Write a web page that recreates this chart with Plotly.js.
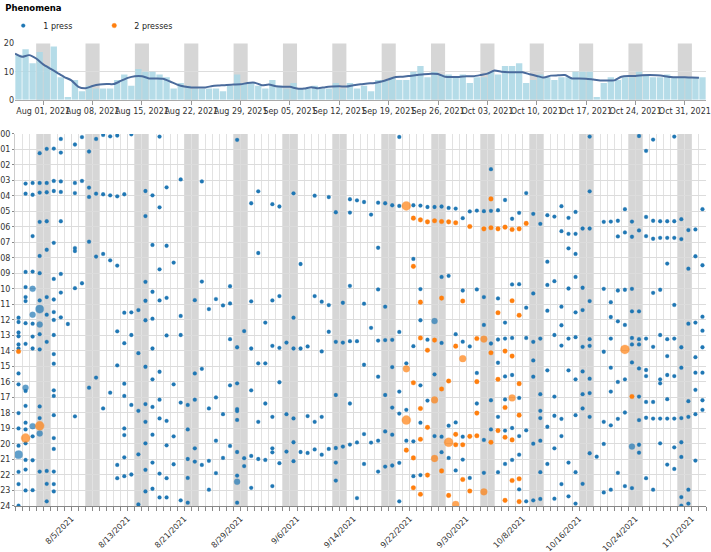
<!DOCTYPE html>
<html>
<head>
<meta charset="utf-8">
<script src="https://cdn.plot.ly/plotly-3.0.1.min.js"></script>
<style>
html,body{margin:0;padding:0;background:#ffffff;}
#chart{width:711px;height:552px;}
</style>
</head>
<body>
<div id="chart"></div>
<script>
// ---------- categories: one entry per day ----------
const dates = [
  '2021-07-28','2021-07-29','2021-07-30','2021-07-31',
  '2021-08-01','2021-08-02','2021-08-03','2021-08-04','2021-08-05','2021-08-06','2021-08-07','2021-08-08','2021-08-09','2021-08-10',
  '2021-08-11','2021-08-12','2021-08-13','2021-08-14','2021-08-15','2021-08-16','2021-08-17','2021-08-18','2021-08-19','2021-08-20',
  '2021-08-21','2021-08-22','2021-08-23','2021-08-24','2021-08-25','2021-08-26','2021-08-27','2021-08-28','2021-08-29','2021-08-30','2021-08-31',
  '2021-09-01','2021-09-02','2021-09-03','2021-09-04','2021-09-05','2021-09-06','2021-09-07','2021-09-08','2021-09-09','2021-09-10',
  '2021-09-11','2021-09-12','2021-09-13','2021-09-14','2021-09-15','2021-09-16','2021-09-17','2021-09-18','2021-09-19','2021-09-20',
  '2021-09-21','2021-09-22','2021-09-23','2021-09-24','2021-09-25','2021-09-26','2021-09-27','2021-09-28','2021-09-29','2021-09-30',
  '2021-10-01','2021-10-02','2021-10-03','2021-10-04','2021-10-05','2021-10-06','2021-10-07','2021-10-08','2021-10-09','2021-10-10',
  '2021-10-11','2021-10-12','2021-10-13','2021-10-14','2021-10-15','2021-10-16','2021-10-17','2021-10-18','2021-10-19','2021-10-20',
  '2021-10-21','2021-10-22','2021-10-23','2021-10-24','2021-10-25','2021-10-26','2021-10-27','2021-10-28','2021-10-29','2021-10-30','2021-10-31',
  '2021-11-01','2021-11-02'
];

// ---------- top panel: daily counts and smoothed trend ----------
const dailyCount = [
  16,18,13,17,12,19,8,1,7,3,
  5,4,4,4,7,9,5,11,10,10,
  9,8,4,6,5,4,4,4,4,3,
  5,9,6,6,5,4,7,5,4,6,
  4,4,5,4,4,6,4,6,4,5,
  3,7,7,8,7,7,10,12,8,10,
  9,9,8,9,6,8,8,10,9,12,
  12,13,6,7,9,8,7,8,8,10,
  10,10,1,6,8,7,8,8,10,9,
  8,8,9,8,8,8,8,8
];
const rollingMean = [
  16.4,15.3,15.9,14.7,12.6,11.1,9.6,8.1,6.9,4.6,
  4.1,4.9,5.4,5.6,5.6,6.7,7.8,8.4,8.4,7.6,
  7.6,7.5,6.5,5.4,4.7,4.4,4.4,4.4,4.9,5.1,
  5.3,5.4,5.5,6.0,6.1,5.2,5.4,4.8,4.6,4.6,
  4.0,4.0,4.5,4.1,4.5,4.7,4.8,4.7,5.2,5.5,
  5.8,6.0,6.5,7.3,8.1,8.2,8.5,8.8,9.1,9.3,
  9.2,8.2,8.1,8.1,8.4,8.4,8.8,9.3,10.4,10.0,
  9.8,9.8,9.8,9.1,8.5,7.9,8.6,8.7,8.8,7.6,
  7.6,7.5,7.2,6.9,6.9,6.9,8.2,8.5,8.5,8.7,
  8.8,8.7,8.5,8.1,8.0,8.0,7.9,7.8
];
const countTicks = [0, 10, 20];

// ---------- bottom panel: hour-of-day axis ----------
const hourTicks = [0,1,2,3,4,5,6,7,8,9,10,11,12,13,14,15,16,17,18,19,20,21,22,23,24];
const hourLabels = ['00','01','02','03','04','05','06','07','08','09','10','11','12',
                    '13','14','15','16','17','18','19','20','21','22','23','24'];

const seriesNames = ['1 press', '2 presses'];

// "1 press" events: hours of day, one list per entry of dates
const press1Hours = [
  [11.85,12.13,12.81,13.05,13.58,13.84,15.45,16.15,18.01,19.0,20.11,21.8,22.59,23.98],
  [3.2,3.85,8.9,9.88,10.52,10.78,12.21,13.54,16.58,17.54,18.63,19.06,19.96,21.03,21.65,23.0],
  [3.16,3.92,6.59,8.88,12.24,13.07,13.84,19.51,21.05,22.98],
  [1.24,3.16,3.78,5.67,7.87,8.98,10.74,12.92,13.9,17.58,18.33,21.78],
  [0.96,3.16,3.76,5.63,7.47,10.52,11.66,13.41,21.74,22.57,23.7],
  [0.94,3.03,3.68,7.02,9.35,10.68,11.49,12.0,12.97,14.2,14.82,16.54,16.9,18.14,19.62,20.32,21.78,22.59,23.06],
  [0.32,1.2,3.06,3.74,5.63,9.03,10.23,11.83],
  [12.26],
  [0.68,3.16,3.81,7.36,7.55,9.95,18.22],
  [0.2,3.03,9.63],
  [1.13,3.46,4.06,6.95,16.37],
  [0.32,3.85,7.91,15.72],
  [0.06,3.89,7.74,17.71],
  [0.15,3.96,8.15,16.69],
  [0.1,4.02,8.49,12.73,14.93,21.35,22.21],
  [3.89,11.53,13.5,16.11,16.9,19.0,19.43,20.86,22.08],
  [0.02,11.51,12.97,17.48,21.97],
  [11.36,14.14,17.86,20.67,23.9],
  [3.68,5.3,9.54,10.76,12.02,15.02,17.43,18.57,19.96,21.67,23.06],
  [3.96,7.16,10.18,11.92,13.84,15.83,17.61,19.4,21.2,22.89],
  [0.17,4.73,8.73,10.74,15.34,17.14,18.35,21.91,23.45],
  [3.44,7.21,10.57,13.0,18.51,20.09,22.21,23.45],
  [8.3,16.15,19.51,21.31],
  [2.93,11.74,12.97,17.33,23.64],
  [17.48,19.06,20.97,22.19,23.79],
  [10.72,15.45,17.14,20.28,21.14],
  [3.06,9.52,15.15,21.35],
  [11.3,17.71,21.09,22.95],
  [10.65,17.0,19.79,21.88],
  [11.06,18.08,20.9],
  [9.82,10.93,13.24,16.22,20.13],
  [0.38,13.76,16.09,17.75,17.88,18.45,20.52,22.04,23.79],
  [12.72,20.92,21.43],
  [4.47,10.8,13.84,16.54,20.77,22.83],
  [3.7,7.68,14.8,18.57,20.97],
  [12.17,14.8,17.39,21.03],
  [4.53,10.74,13.67,18.25,20.28,20.54,22.72],
  [4.68,10.46,13.8,16.02,21.24],
  [13.46,18.08,20.49],
  [3.83,11.85,13.84,18.35,19.89,21.11],
  [8.39,13.84,20.52],
  [13.71,18.2,20.58],
  [3.98,10.46,18.57,20.35],
  [10.82,14.03,18.25,20.69],
  [4.07,11.04,12.76,20.32],
  [5.05,13.41,16.84,20.26,21.2,22.36],
  [10.89,13.46,20.17],
  [4.21,5.07,9.8,13.37,17.39,20.04],
  [4.28,13.37,19.9,23.49],
  [4.39,10.95,14.89,19.36,21.29],
  [5.2,12.51,19.91],
  [4.43,7.34,10.03,13.33,15.66,19.79,21.78],
  [4.47,11.14,13.3,16.84,19.19,21.46],
  [4.6,13.28,15.04,17.65,19.4,21.39],
  [0.19,4.64,12.77,16.62,18.04,21.22,23.7],
  [14.8,17.8,19.79],
  [4.6,8.06,13.69,19.83,22.08],
  [4.62,10.01,12.02,16.22,18.63,22.01],
  [4.71,13.27,17.2],
  [4.71,15.51,19.49],
  [4.68,9.22,13.48,19.53,20.53],
  [4.77,9.15,18.82,20.9],
  [4.81,12.92,18.61,21.71],
  [5.43,10.1,13.4,19.53,21.01],
  [5.0,13.71,22.19],
  [4.94,10.03,15.42,17.39],
  [4.98,10.52,12.32,19.74,21.86],
  [2.27,4.96,13.52,17.18,19.06],
  [4.92,10.61,13.26,14.76,18.25,21.82],
  [4.26,12.17,13.2,15.64,17.13,19.14,21.29],
  [5.47,9.71,13.16,15.55,18.97,21.03],
  [5.09,9.69,17.03,19.49,20.69,22.93],
  [3.81,11.21,13.16,19.12,23.7],
  [5.15,10.29,13.41,14.61,15.66,19.98,23.64],
  [5.8,13.2,16.79,17.86,18.33,19.79,21.82,23.55],
  [5.24,8.24,9.74,11.4,15.25,18.89,21.29],
  [5.33,9.5,12.97,16.94,18.18,20.28,23.53],
  [4.66,6.27,11.14,12.34,13.65,18.38,19.49,22.59],
  [5.41,6.44,7.38,9.97,13.2,15.25,21.2,23.38],
  [5.03,6.44,7.74,9.22,11.51,13.11,15.83,18.14,21.82,23.85],
  [6.1,9.92,11.36,13.73,15.32,16.79,17.71,22.57],
  [0.17,3.7,6.1,10.78,13.24,13.67,15.79,16.72,18.25,20.6],
  [20.82],
  [5.67,9.99,14.05,18.57,20.0,23.13],
  [5.65,10.85,11.81,13.2,15.08,16.62,18.8,22.95],
  [5.6,6.61,10.1,12.09,16.0,18.38,21.86],
  [4.85,6.35,10.05,12.32,15.83,17.97,22.72],
  [5.65,6.63,9.99,11.44,13.16,13.58,14.74,22.85],
  [0.13,6.22,11.44,13.24,13.58,15.13,16.94,18.46,20.05,20.56],
  [1.09,5.35,6.59,13.2,15.23,15.62,17.29,18.31,22.21],
  [0.36,5.6,6.76,10.25,13.73,17.29,18.36,22.95],
  [5.63,6.7,10.05,12.97,15.83,16.09,18.36,19.96],
  [5.63,6.7,8.36,13.24,14.33,15.55,17.11,18.36,21.33],
  [0.17,5.63,6.7,11.03,13.2,15.62,18.36,20.22,21.61],
  [5.5,6.78,13.76,15.08,18.33,19.89,20.84,23.43,23.98],
  [6.2,8.69,12.24,17.24,18.25,22.95,23.85],
  [6.16,7.89,12.17,14.4,15.4,16.51,18.08,21.07],
  [4.85,8.47,11.79,12.69,13.76,15.4,17.18,17.8]
];
// "1 press" events that were recorded several times at the same moment
const press1MultiDates  = ['2021-07-28','2021-07-29','2021-07-30','2021-07-30','2021-07-30','2021-07-31','2021-07-31','2021-07-31','2021-08-28','2021-09-25','2021-10-23'];
const press1MultiHours  = [20.69,16.37,9.99,11.66,18.85,11.3,12.3,19.32,22.44,12.07,20.17];
const press1MultiCounts = [3,2,2,2,2,3,2,2,2,2,2];

// "2 presses" events
const press2Dates = ['2021-07-28','2021-09-21','2021-09-22','2021-09-23','2021-09-24','2021-09-25','2021-09-26',
                     '2021-09-27','2021-09-28','2021-09-29','2021-09-30','2021-10-01','2021-10-02','2021-10-03',
                     '2021-10-04','2021-10-05','2021-10-06','2021-10-07','2021-10-08','2021-10-23'];
const press2Hours = [
  [14.03],
  [20.4],
  [5.43,8.54,16.05,20.9,22.83],
  [5.54,10.85,13.16,17.71,19.7,23.25],
  [5.67,13.95,18.93,22.01],
  [5.6,13.3],
  [5.65,10.59,16.45,21.74],
  [5.67,15.94,23.32],
  [5.73,13.69,19.38,20.05],
  [10.78,20.05,22.29],
  [5.97,19.51,23.04],
  [13.2,15.98,18.01,19.47],
  [6.12],
  [4.19,6.05,14.12,19.89],
  [6.12,11.53,15.83,19.14],
  [6.01,14.01,17.65,19.57,23.64],
  [6.16,10.76,14.33,19.74,22.36],
  [6.12,11.7,16.11,18.14,22.25,23.72],
  [5.77],
  [16.94]
];
const press2MultiDates  = ['2021-07-29','2021-07-31','2021-09-21','2021-09-21','2021-09-21','2021-09-25','2021-09-25',
                           '2021-09-27','2021-09-28','2021-09-29','2021-10-02','2021-10-02','2021-10-06','2021-10-22'];
const press2MultiHours  = [19.62,18.83,4.64,15.15,18.46,17.16,20.94,19.89,23.9,14.5,13.23,23.09,17.03,13.9];
const press2MultiCounts = [3,3,3,2,3,2,2,3,2,2,2,2,2,3];

// ---------- build traces ----------
const DAY = 86400000;
const blue = '#1f77b4', orange = '#ff7f0e';

function flatten(dayList, hourLists) {
  const xs = [], ys = [];
  dayList.forEach((d, i) => hourLists[i].forEach(h => { xs.push(d); ys.push(h); }));
  return {xs, ys};
}

const p1 = flatten(dates, press1Hours);
const p2 = flatten(press2Dates, press2Hours);

function pointTrace(name, xs, ys, color, halo, size, showlegend) {
  return {
    type: 'scatter', mode: 'markers', name: name,
    x: xs, y: ys, xaxis: 'x2', yaxis: 'y2',
    xperiod: DAY, xperiodalignment: 'middle',
    showlegend: showlegend,
    marker: {color: color, size: size, line: {color: halo, width: 1}},
    hoverinfo: 'x+y'
  };
}

const traces = [
  {
    type: 'bar', x: dates, y: dailyCount, xaxis: 'x', yaxis: 'y',
    xperiod: DAY, xperiodalignment: 'middle',
    marker: {color: '#add8e6', opacity: 0.9, line: {width: 0}},
    showlegend: false, hoverinfo: 'x+y'
  },
  {
    type: 'scatter', mode: 'lines', x: dates, y: rollingMean, xaxis: 'x', yaxis: 'y',
    line: {color: '#4a6b9c', width: 2, shape: 'spline', smoothing: 0.6},
    showlegend: false, hoverinfo: 'x+y'
  },
  pointTrace(seriesNames[0], p1.xs, p1.ys, blue, 'rgba(31,119,180,0.28)', 3.8, true),
  pointTrace(seriesNames[1], p2.xs, p2.ys, orange, 'rgba(255,127,14,0.3)', 4.6, true),
  pointTrace(seriesNames[0], press1MultiDates, press1MultiHours, blue, 'rgba(31,119,180,0.28)',
             press1MultiCounts.map(c => 3.8 + (c - 1) * 2.2), false),
  pointTrace(seriesNames[1], press2MultiDates, press2MultiHours, orange, 'rgba(255,127,14,0.3)',
             press2MultiCounts.map(c => 4.6 + (c - 1) * 2.2), false)
];

// weekend bands (Saturday + Sunday) derived from the date list
const shapes = [];
dates.forEach((d, i) => {
  if (new Date(d + 'T00:00:00Z').getUTCDay() === 6 && i + 2 < dates.length) {
    ['x', 'x2'].forEach((ax, k) => {
      shapes.push({
        type: 'rect', layer: 'below', xref: ax, yref: (k === 0 ? 'y' : 'y2') + ' domain',
        x0: d, x1: dates[i + 2], y0: 0, y1: 1,
        fillcolor: '#d6d6d6', line: {width: 0}
      });
    });
  }
});

const H = 552;
const tickFont = {family: 'DejaVu Sans, Verdana, sans-serif', size: 8, color: '#333'};

const layout = {
  width: 711, height: H,
  margin: {l: 15, r: 5, t: 0, b: 0, pad: 0},
  paper_bgcolor: '#ffffff', plot_bgcolor: '#ffffff',
  font: {family: 'DejaVu Sans, Verdana, sans-serif', size: 8, color: '#333'},
  showlegend: true,
  bargap: 0.1,
  legend: {
    orientation: 'h', x: -0.017, xanchor: 'left', y: 1.006, yanchor: 'top',
    title: {text: '<b>Phenomena</b>', side: 'top', font: {size: 8.5, color: '#000'}},
    font: {size: 8, color: '#222'}, itemsizing: 'trace', entrywidth: 46,
    bgcolor: 'rgba(0,0,0,0)', tracegroupgap: 0
  },
  xaxis: {
    type: 'date', domain: [0, 1], anchor: 'y',
    range: ['2021-07-28', '2021-11-03'],
    tick0: '2021-08-01', dtick: 7 * DAY, tickformat: '%b %d, %Y', tickangle: 0,
    ticks: 'outside', ticklen: 4, tickcolor: '#999', tickfont: tickFont,
    showgrid: false, showline: true, linecolor: '#aaa', zeroline: false
  },
  yaxis: {
    domain: [(H - 97.3) / H, (H - 40.7) / H], anchor: 'x',
    range: [0, 20.05], tickvals: countTicks, tickfont: tickFont,
    showgrid: true, gridcolor: '#dddddd', zeroline: false, ticks: '', showline: false
  },
  xaxis2: {
    type: 'date', domain: [0, 1], anchor: 'y2',
    range: ['2021-07-28', '2021-11-03'],
    tick0: '2021-08-05', dtick: 8 * DAY, tickformat: '%-m/%-d/%Y', tickangle: -45,
    ticks: 'outside', ticklen: 4, tickcolor: '#888', tickfont: tickFont,
    showgrid: true, gridcolor: '#dcdcdc', gridwidth: 1,
    minor: {tick0: '2021-07-28', dtick: DAY, ticks: 'outside', ticklen: 4, tickcolor: '#888',
            showgrid: true, gridcolor: '#e2e2e2', gridwidth: 1},
    showline: true, linecolor: '#888', zeroline: false
  },
  yaxis2: {
    domain: [(H - 505.7) / H, (H - 131.7) / H], anchor: 'x2',
    range: [24, 0], tickvals: hourTicks, ticktext: hourLabels,
    tickfont: {family: 'DejaVu Sans, Verdana, sans-serif', size: 8, color: '#333'},
    ticks: 'outside', ticklen: 2, tickcolor: '#888',
    showgrid: true, gridcolor: '#dcdcdc', zeroline: false, showline: true, linecolor: '#ccc'
  },
  shapes: shapes
};

Plotly.newPlot('chart', traces, layout, {staticPlot: true, displayModeBar: false});
</script>
</body>
</html>
